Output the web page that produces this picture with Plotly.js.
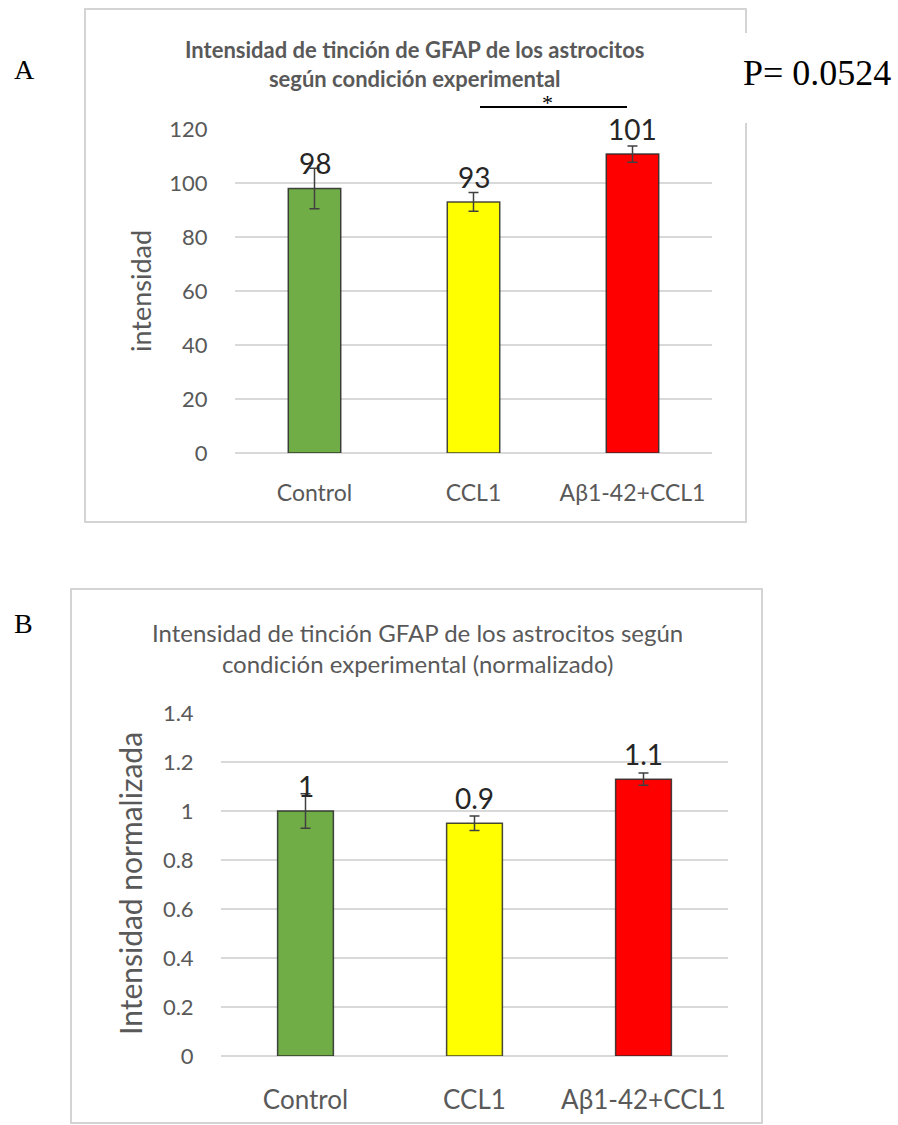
<!DOCTYPE html>
<html>
<head>
<meta charset="utf-8">
<script src="https://cdn.plot.ly/plotly-3.0.1.min.js"></script>
<style>html,body{margin:0;padding:0;background:#fff;}#chart{width:898px;height:1125px;}</style>
</head>
<body>
<div id="chart"></div>
<script>
// ---- data ----
const categories = ['Control', 'CCL1', 'Aβ1-42+CCL1'];
const barColors = ['#70ad47', '#ffff00', '#ff0000'];

const intensityA = [98, 93, 110.7];
const errorA = [7.5, 3.5, 3];
const labelsA = ['98', '93', '101'];
const yTicksA = [0, 20, 40, 60, 80, 100, 120];

const normB = [1.0, 0.95, 1.13];
const errorB = [0.07, 0.03, 0.025];
const labelsB = ['1', '0.9', '1.1'];
const yTicksB = [0, 0.2, 0.4, 0.6, 0.8, 1, 1.2, 1.4];
const yTickTextB = ['0', '0.2', '0.4', '0.6', '0.8', '1', '1.2', '1.4'];

const titleA = '<b>Intensidad de tinción de GFAP de los astrocitos<br>según condición experimental</b>';
const titleB = 'Intensidad de tinción GFAP de los astrocitos según<br>condición experimental (normalizado)';
const pText = 'P= 0.0524';

// ---- helpers ----
const W = 898, H = 1125;
const px = v => v / W;
const py = v => 1 - v / H;
const GRAY = '#595959';
const FONT = 'Lato, "Open Sans", sans-serif';
const SERIF = '"Liberation Serif", "Times New Roman", serif';

const barTrace = (vals, errs, xa, ya) => ({
  type: 'bar', x: categories, y: vals, xaxis: xa, yaxis: ya,
  marker: {color: barColors, line: {color: 'rgba(40,40,40,0.85)', width: 1.5}},
  error_y: {type: 'data', array: errs, visible: true, color: '#404040', thickness: 1.5, width: 5},
  hoverinfo: 'none', showlegend: false
});

const data = [
  barTrace(intensityA, errorA, 'x', 'y'),
  barTrace(normB, errorB, 'x2', 'y2')
];

const xAxisStyle = (dom, fs, tl) => ({
  domain: dom, type: 'category', range: [-0.5, 2.5], fixedrange: true,
  showline: false, showgrid: false, zeroline: false,
  ticks: 'outside', ticklen: tl, tickcolor: 'rgba(0,0,0,0)',
  tickfont: {family: FONT, size: fs, color: GRAY}
});
const yAxisStyle = (dom, rng, tv, tt, tl) => ({
  domain: dom, range: rng, tickmode: 'array', tickvals: tv, ticktext: tt, fixedrange: true,
  showline: false, showgrid: true, gridcolor: '#d9d9d9', gridwidth: 1.5,
  zeroline: true, zerolinecolor: '#d9d9d9', zerolinewidth: 1.5,
  ticks: 'outside', ticklen: tl, tickcolor: 'rgba(0,0,0,0)',
  tickfont: {family: FONT, size: 22, color: GRAY}
});

const annotations = [];
labelsA.forEach((t, i) => annotations.push({
  xref: 'x', yref: 'y', x: categories[i], y: intensityA[i], text: t, showarrow: false,
  yanchor: 'bottom', yshift: 6, font: {family: FONT, size: 28, color: '#262626'}
}));
labelsB.forEach((t, i) => annotations.push({
  xref: 'x2', yref: 'y2', x: categories[i], y: normB[i], text: t, showarrow: false,
  yanchor: 'bottom', yshift: 6, font: {family: FONT, size: 28, color: '#262626'}
}));
annotations.push(
  {xref: 'paper', yref: 'paper', x: px(415), y: py(64), text: titleA, showarrow: false,
   xanchor: 'center', yanchor: 'middle', font: {family: FONT, size: 22, color: GRAY}},
  {xref: 'paper', yref: 'paper', x: px(417), y: py(648), text: titleB, showarrow: false,
   xanchor: 'center', yanchor: 'middle', font: {family: FONT, size: 24, color: GRAY}},
  {xref: 'paper', yref: 'paper', x: px(141), y: py(291), text: 'intensidad', showarrow: false,
   textangle: -90, xanchor: 'center', yanchor: 'middle', font: {family: FONT, size: 27, color: GRAY}},
  {xref: 'paper', yref: 'paper', x: px(130), y: py(884), text: 'Intensidad normalizada', showarrow: false,
   textangle: -90, xanchor: 'center', yanchor: 'middle', font: {family: FONT, size: 30, color: GRAY}},
  {xref: 'paper', yref: 'paper', x: px(741), y: py(73), text: pText, showarrow: false,
   xanchor: 'left', yanchor: 'middle', font: {family: SERIF, size: 36, color: '#000'}},
  {xref: 'paper', yref: 'paper', x: px(547), y: py(107), text: '*', showarrow: false,
   xanchor: 'center', yanchor: 'bottom', yshift: -10, font: {family: SERIF, size: 22, color: '#000'}},
  {xref: 'paper', yref: 'paper', x: px(12), y: py(70), text: 'A', showarrow: false,
   xanchor: 'left', yanchor: 'middle', font: {family: SERIF, size: 28, color: '#000'}},
  {xref: 'paper', yref: 'paper', x: px(12), y: py(623), text: 'B', showarrow: false,
   xanchor: 'left', yanchor: 'middle', font: {family: SERIF, size: 28, color: '#000'}}
);

const shapes = [
  {type: 'rect', xref: 'paper', yref: 'paper', x0: px(85), x1: px(746), y0: py(522), y1: py(9),
   line: {color: '#d4d4d4', width: 2}, fillcolor: 'rgba(0,0,0,0)', layer: 'below'},
  {type: 'rect', xref: 'paper', yref: 'paper', x0: px(71), x1: px(762), y0: py(1123), y1: py(589),
   line: {color: '#d4d4d4', width: 2}, fillcolor: 'rgba(0,0,0,0)', layer: 'below'},
  {type: 'rect', xref: 'paper', yref: 'paper', x0: px(738), x1: px(898), y0: py(123), y1: py(33),
   line: {width: 0}, fillcolor: '#ffffff', layer: 'below'},
  {type: 'line', xref: 'paper', yref: 'paper', x0: px(480), x1: px(627), y0: py(107), y1: py(107),
   line: {color: '#000', width: 2}}
];

const layout = {
  width: W, height: H, margin: {l: 0, r: 0, t: 0, b: 0},
  paper_bgcolor: '#fff', plot_bgcolor: 'rgba(0,0,0,0)',
  bargap: 0.67, showlegend: false,
  xaxis: Object.assign(xAxisStyle([px(235), px(712)], 23, 19), {anchor: 'y'}),
  yaxis: Object.assign(yAxisStyle([py(453), py(129)], [0, 120], yTicksA, yTicksA.map(String), 22), {anchor: 'x'}),
  xaxis2: Object.assign(xAxisStyle([px(221), px(728)], 26, 21), {anchor: 'y2'}),
  yaxis2: Object.assign(yAxisStyle([py(1056), py(713)], [0, 1.4], yTicksB, yTickTextB, 22), {anchor: 'x2'}),
  annotations: annotations, shapes: shapes
};

Plotly.newPlot('chart', data, layout, {staticPlot: true, displayModeBar: false});
</script>
</body>
</html>
